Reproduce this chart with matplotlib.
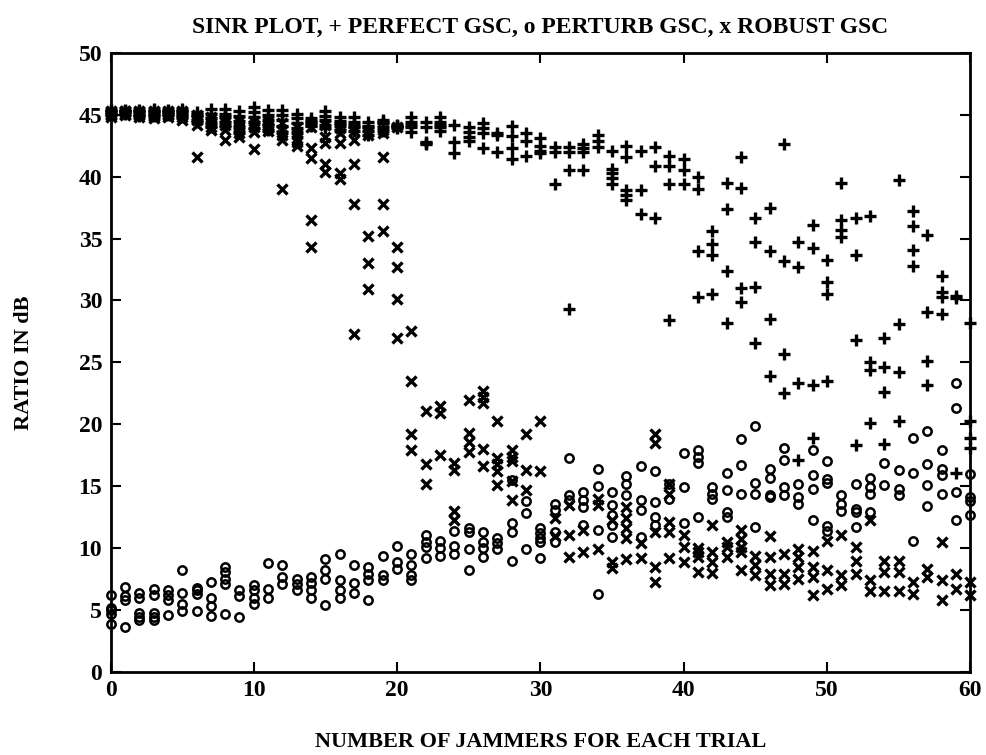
import numpy as np
import matplotlib

matplotlib.use("Agg")
import matplotlib.pyplot as plt

# number of jammers (x positions 0..60), one list of trial results per x
jammers = list(range(61))

perfect_gsc = [
    [45.3, 45.1, 45.4, 45.0, 45.2], [45.4, 45.2, 45.3, 45.1, 45.3], [45.4, 45.2, 45.0, 44.9, 45.3],
    [45.5, 45.2, 44.9, 45.0, 45.3], [45.4, 45.2, 45.0, 45.3, 45.1], [45.5, 45.2, 44.8, 45.0, 45.3],
    [45.2, 44.9, 44.6, 44.4, 45.0], [45.5, 45.1, 44.7, 44.3, 44.0], [45.5, 45.1, 44.8, 44.4, 44.1],
    [45.3, 44.9, 44.5, 44.0, 43.6], [45.6, 45.2, 44.8, 44.4, 43.9], [45.4, 45.0, 44.6, 44.2, 43.8],
    [45.4, 45.0, 44.6, 44.1, 43.6], [45.1, 44.7, 44.3, 43.9, 43.5], [44.7, 44.4, 44.1, 44.5, 44.2],
    [45.3, 44.9, 44.6, 44.2, 43.9], [44.8, 44.5, 44.1, 43.8, 44.3], [44.8, 44.4, 44.0, 43.7, 44.2],
    [44.4, 44.1, 43.7, 43.4, 44.0], [44.6, 44.3, 44.0, 43.7, 44.4], [44.1, 44.2, 44.0, 44.1, 43.9],
    [44.8, 44.4, 44.0, 43.6, 44.2], [44.4, 44.0, 42.7, 42.8, 42.6], [44.8, 44.4, 44.0, 43.7, 44.2],
    [44.2, 42.8, 41.9], [44.0, 43.6, 43.2, 42.9], [44.3, 43.9, 43.5, 42.3],
    [43.5, 43.4, 42.0], [44.1, 43.3, 42.3, 41.4], [43.5, 42.9, 41.7],
    [43.1, 42.5, 42.1, 41.9], [42.4, 42.0, 39.4], [42.4, 42.0, 40.5, 29.3],
    [42.6, 42.3, 42.0, 40.5], [43.4, 42.9, 42.4], [42.1, 40.6, 40.3, 39.9, 39.4],
    [42.5, 41.6, 38.9, 38.5, 38.1], [42.1, 38.9, 37.0], [42.4, 40.9, 36.7],
    [41.7, 40.9, 39.4, 28.4], [41.4, 40.5, 39.4], [40.0, 39.0, 34.0, 30.3],
    [35.6, 34.6, 33.7, 30.5], [39.5, 37.4, 32.4, 28.2], [41.6, 39.1, 31.0, 29.9],
    [36.7, 34.7, 31.1, 26.6], [37.5, 34.0, 28.5, 23.9], [42.6, 33.2, 25.7, 22.5],
    [34.7, 32.7, 23.3, 17.1], [36.1, 34.2, 23.2, 18.9], [33.3, 31.5, 30.5, 23.5],
    [39.5, 36.5, 35.7, 35.1], [36.7, 33.7, 26.8, 18.3], [36.8, 25.0, 24.4, 20.1],
    [27.0, 24.6, 22.6, 18.4], [39.7, 28.1, 24.2, 20.3], [37.2, 36.0, 34.1, 32.8],
    [35.3, 29.1, 25.1, 23.2], [32.0, 30.7, 30.3, 28.9], [30.4, 30.2, 16.1],
    [28.2, 20.3, 18.9, 18.1],
]

perturb_gsc = [
    [6.2, 5.2, 4.7, 3.9, 5.0], [6.9, 6.1, 5.8, 3.6], [6.4, 6.0, 4.8, 4.4, 4.2],
    [6.7, 6.2, 4.8, 4.4, 4.2], [6.6, 6.2, 5.8, 4.6], [8.2, 6.4, 5.5, 4.9],
    [6.8, 6.6, 6.3, 4.9], [7.3, 6.0, 5.3, 4.5], [8.5, 8.1, 7.5, 7.1, 4.7],
    [6.6, 6.1, 4.4], [7.0, 6.6, 6.0, 5.5], [8.8, 6.7, 6.0],
    [8.6, 7.7, 7.1], [7.5, 7.1, 6.6], [7.7, 7.2, 6.6, 6.0],
    [9.1, 8.2, 7.5, 5.4], [9.5, 7.4, 6.6, 6.0], [8.6, 7.2, 6.4],
    [8.5, 7.9, 7.4, 5.8], [9.4, 7.8, 7.4], [10.2, 8.9, 8.3],
    [9.5, 8.6, 7.8, 7.4], [11.1, 10.5, 10.1, 9.2], [10.6, 10.0, 9.4],
    [11.4, 10.2, 9.5], [11.6, 11.3, 9.9, 8.2], [11.3, 10.5, 10.0, 9.3],
    [10.8, 10.4, 9.9], [15.5, 12.0, 11.3, 9.0], [13.8, 12.8, 9.9],
    [11.6, 11.2, 10.8, 10.5, 9.2], [13.6, 13.1, 11.3, 10.5], [17.3, 14.3, 13.9],
    [14.5, 13.9, 13.3, 11.9], [16.4, 15.0, 11.5, 6.3], [14.5, 13.5, 12.7, 11.9, 10.9],
    [15.8, 15.2, 14.3], [16.6, 13.9, 13.1, 10.9], [16.2, 13.7, 12.5, 11.9],
    [15.2, 14.0], [17.7, 14.9, 12.0], [17.9, 17.4, 16.9, 12.5],
    [14.9, 14.4, 14.0], [16.1, 14.7, 12.9, 12.5], [18.8, 16.7, 14.4],
    [19.9, 15.3, 14.4, 11.7], [16.4, 15.7, 14.3, 14.1], [18.1, 17.1, 14.9, 14.3],
    [15.2, 14.1, 13.6], [17.9, 15.9, 14.8, 12.3], [17.0, 15.6, 15.3, 11.8, 11.4],
    [14.3, 13.6, 13.0], [15.2, 13.2, 12.9, 11.7], [15.7, 14.9, 14.4, 12.9],
    [16.9, 15.1], [16.3, 14.8, 14.3], [18.9, 16.1, 10.6],
    [19.5, 16.8, 15.1, 13.4], [17.9, 16.4, 15.9, 14.4], [23.3, 21.3, 14.5, 12.3],
    [16.0, 14.1, 13.8, 12.7],
]

robust_gsc = [
    [45.3, 45.0, 44.8, 45.2, 45.1], [45.3, 45.2, 45.1, 45.3, 45.0], [45.2, 45.0, 44.8, 45.3, 45.1],
    [45.3, 45.0, 44.7, 45.1, 44.9], [45.2, 45.0, 44.8, 45.3, 45.1], [45.3, 45.0, 44.6, 45.1, 44.8],
    [45.0, 44.6, 44.2, 41.6, 44.8], [44.8, 44.3, 43.8, 44.5, 44.0], [44.6, 44.2, 43.8, 43.0, 44.4],
    [44.5, 44.0, 43.5, 43.2, 43.8], [44.5, 44.0, 43.6, 42.2, 44.2], [44.5, 44.0, 43.7, 44.2, 43.9],
    [44.3, 43.8, 43.4, 43.0, 39.0], [43.5, 43.0, 42.5, 42.8, 44.0], [44.0, 42.3, 41.5, 36.5, 34.3],
    [44.2, 43.2, 42.7, 41.0, 40.4], [43.9, 42.7, 40.3, 39.8, 43.5], [43.7, 43.0, 41.0, 37.8, 27.3],
    [43.4, 35.2, 33.0, 30.9, 43.6], [43.8, 41.6, 37.8, 35.6, 43.5], [34.3, 32.7, 30.1, 27.0, 44.0],
    [27.5, 23.5, 19.2, 17.9], [21.1, 16.8, 15.2], [21.5, 20.9, 17.5],
    [16.9, 16.3, 13.0, 12.3], [22.0, 19.3, 18.6, 17.8], [22.7, 22.2, 21.7, 18.0, 16.6],
    [20.3, 17.3, 16.8, 16.2, 15.1], [17.9, 17.4, 17.0, 15.4, 13.9], [19.2, 16.3, 14.7],
    [20.3, 16.2], [12.4, 11.0], [13.5, 11.1, 9.3],
    [11.5, 9.7], [14.0, 13.5, 9.9], [12.3, 8.9, 8.4],
    [13.3, 12.4, 11.6, 10.8, 9.1], [10.4, 9.2], [19.2, 18.5, 11.3, 8.5, 7.3],
    [15.2, 14.4, 12.1, 11.3, 9.2], [11.1, 10.1, 8.9], [10.0, 9.7, 9.3, 8.1],
    [11.9, 9.7, 8.9, 8.0], [10.5, 10.1, 9.3], [11.5, 10.7, 10.1, 9.7, 8.2],
    [9.4, 8.6, 7.8], [11.0, 9.3, 7.9, 7.0], [9.5, 7.9, 7.1],
    [9.9, 9.3, 8.5, 7.5], [9.8, 8.5, 7.7, 6.2], [10.6, 8.2, 6.7],
    [11.1, 7.8, 7.0], [10.1, 9.0, 7.9], [12.3, 7.4, 6.5],
    [9.0, 8.1, 6.5], [9.0, 8.1, 6.5], [7.3, 6.3],
    [8.3, 7.7], [10.5, 7.4, 5.8], [7.9, 6.7],
    [7.3, 6.2],
]

title = "SINR PLOT, + PERFECT GSC, o PERTURB GSC, x ROBUST GSC"
xlabel = "NUMBER OF JAMMERS FOR EACH TRIAL"
ylabel = "RATIO IN dB"


def _flatten(series):
    xs = np.concatenate([[j] * len(v) for j, v in zip(jammers, series)])
    ys = np.concatenate([v for v in series])
    return xs, ys


plt.rcParams["font.family"] = ["Liberation Serif", "DejaVu Serif"]
plt.rcParams["font.weight"] = "bold"

fig = plt.figure(figsize=(9.87, 7.55), dpi=100)
ax = fig.add_axes([0.112, 0.110, 0.871, 0.820])

px, py = _flatten(perfect_gsc)
ox, oy = _flatten(perturb_gsc)
rx, ry = _flatten(robust_gsc)

ax.plot(ox, oy, "o", ms=6, mfc="none", mec="black", mew=1.8, ls="none", clip_on=False)
ax.plot(rx, ry, "x", ms=6.5, mec="black", mew=2.4, ls="none", clip_on=False)
ax.plot(px, py, "+", ms=8, mec="black", mew=2.4, ls="none", clip_on=False)

ax.set_xlim(0, 60)
ax.set_ylim(0, 50)
ax.set_xticks(range(0, 61, 10))
ax.set_yticks(range(0, 51, 5))
ax.tick_params(direction="in", top=True, right=True, length=7, width=1.5,
               labelsize=17, pad=6)
for s in ax.spines.values():
    s.set_linewidth(2)

ax.set_title(title, fontsize=17, fontweight="bold", pad=14)
ax.set_xlabel(xlabel, fontsize=16, fontweight="bold", labelpad=22)
ax.set_ylabel(ylabel, fontsize=16, fontweight="bold", labelpad=32)

fig.savefig("out.png", dpi=100)
plt.close(fig)
